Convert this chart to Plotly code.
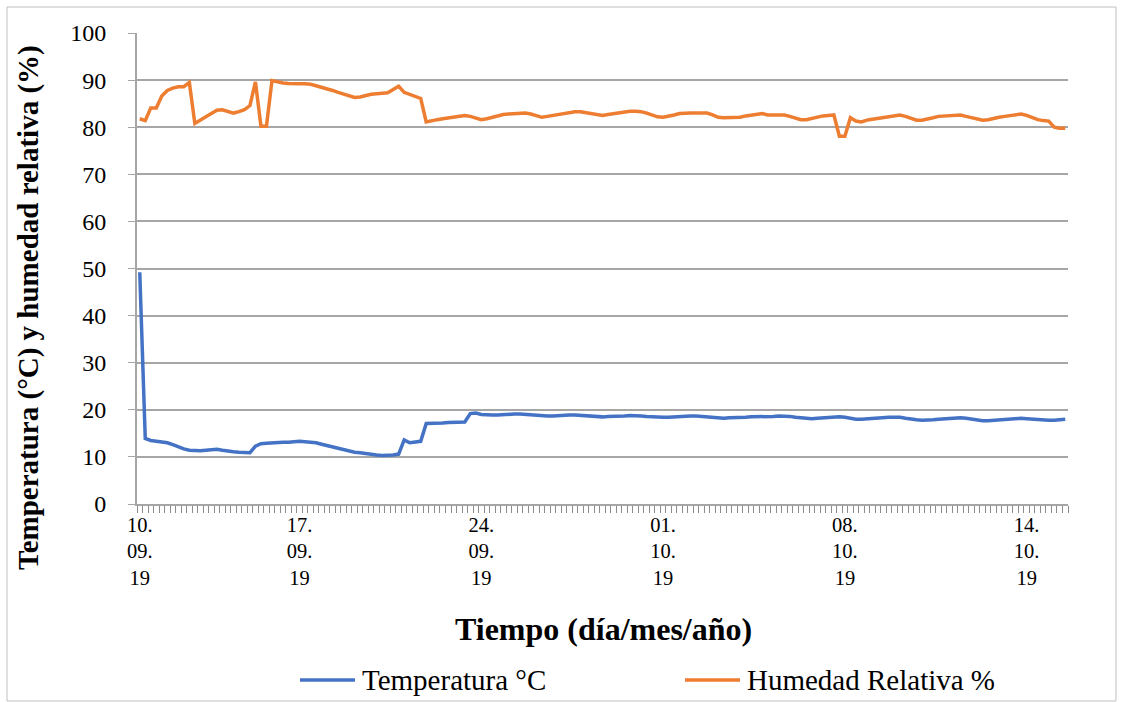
import plotly.graph_objects as go

# Data (one value per category / sampling step)
temperatura = [
    49.2, 13.9, 13.5, 13.3, 13.2, 13.0, 12.6, 12.1, 11.7, 11.4,
    11.3, 11.3, 11.4, 11.5, 11.6, 11.4, 11.2, 11.1, 11.0, 11.0,
    10.9, 12.3, 12.8, 12.9, 13.0, 13.0, 13.1, 13.1, 13.2, 13.3,
    13.2, 13.1, 13.0, 12.7, 12.4, 12.1, 11.8, 11.5, 11.2, 11.0,
    10.9, 10.7, 10.6, 10.4, 10.3, 10.3, 10.4, 10.6, 13.6, 13.0,
    13.2, 13.3, 17.1, 17.1, 17.2, 17.2, 17.3, 17.3, 17.4, 17.4,
    19.2, 19.3, 19.0, 18.9, 18.9, 18.9, 19.0, 19.0, 19.1, 19.1,
    19.0, 18.9, 18.8, 18.7, 18.7, 18.7, 18.8, 18.8, 18.9, 18.9,
    18.8, 18.7, 18.6, 18.5, 18.5, 18.6, 18.6, 18.7, 18.7, 18.8,
    18.8, 18.7, 18.6, 18.5, 18.4, 18.4, 18.4, 18.5, 18.5, 18.6,
    18.7, 18.7, 18.6, 18.5, 18.3, 18.2, 18.2, 18.3, 18.3, 18.4,
    18.4, 18.5, 18.5, 18.5, 18.6, 18.6, 18.7, 18.7, 18.6, 18.4,
    18.3, 18.2, 18.1, 18.2, 18.3, 18.4, 18.5, 18.5, 18.4, 18.2,
    18.0, 18.0, 18.1, 18.1, 18.2, 18.3, 18.4, 18.4, 18.4, 18.2,
    18.0, 17.9, 17.8, 17.8, 17.9, 18.0, 18.1, 18.2, 18.3, 18.3,
    18.2, 18.0, 17.8, 17.7, 17.7, 17.8, 17.9, 18.0, 18.1, 18.2,
    18.2, 18.1, 18.0, 17.9, 17.8, 17.8, 17.8, 17.9, 18.0,
]

humedad = [
    81.8, 81.4, 84.1, 84.1, 86.6, 87.8, 88.3, 88.6, 88.6, 89.5,
    80.8, 81.6, 82.2, 82.9, 83.6, 83.7, 83.4, 83.0, 83.3, 83.7,
    84.6, 89.6, 80.2, 80.2, 89.9, 89.6, 89.4, 89.3, 89.2, 89.2,
    89.2, 89.1, 88.8, 88.5, 88.1, 87.8, 87.4, 87.0, 86.6, 86.3,
    86.4, 86.7, 87.0, 87.1, 87.2, 87.3, 88.0, 88.7, 87.4, 86.9,
    86.5, 86.1, 81.1, 81.4, 81.6, 81.8, 82.0, 82.2, 82.4, 82.5,
    82.3, 82.0, 81.6, 81.8, 82.1, 82.4, 82.7, 82.8, 82.9, 82.9,
    83.0, 82.8, 82.5, 82.1, 82.3, 82.5, 82.8, 83.0, 83.2, 83.3,
    83.3, 83.1, 82.8, 82.6, 82.5, 82.7, 82.9, 83.1, 83.3, 83.4,
    83.4, 83.3, 83.0, 82.6, 82.2, 82.1, 82.3, 82.6, 82.9, 83.0,
    83.0, 83.0, 83.0, 83.0, 82.6, 82.1, 82.0, 82.0, 82.0, 82.1,
    82.4, 82.6, 82.7, 82.9, 82.6, 82.6, 82.7, 82.6, 82.3, 81.9,
    81.6, 81.6, 81.9, 82.2, 82.4, 82.5, 82.6, 78.1, 78.1, 82.0,
    81.3, 81.1, 81.5, 81.7, 81.9, 82.1, 82.3, 82.4, 82.6, 82.3,
    81.8, 81.5, 81.5, 81.7, 82.0, 82.3, 82.4, 82.5, 82.6, 82.6,
    82.3, 82.0, 81.8, 81.5, 81.6, 81.9, 82.1, 82.3, 82.5, 82.7,
    82.8, 82.5, 82.0, 81.6, 81.4, 81.3, 80.0, 79.8, 79.8,
]

tick_positions = [0, 29, 62, 95, 128, 161]
tick_labels = ["10.<br>09.<br>19", "17.<br>09.<br>19", "24.<br>09.<br>19",
               "01.<br>10.<br>19", "08.<br>10.<br>19", "14.<br>10.<br>19"]

series_names = ["Temperatura °C", "Humedad Relativa %"]
series_colors = ["#4472C4", "#ED7D31"]

idx = list(range(len(temperatura)))
n = len(idx)

FONT = "Liberation Serif"
GRID = "#A6A6A6"
TICK = "#8C8C8C"

fig = go.Figure()
for vals, name, col in zip([temperatura, humedad], series_names, series_colors):
    fig.add_trace(go.Scatter(x=idx, y=vals, mode="lines", name=name,
                             line=dict(color=col, width=3.5), showlegend=False))

# helper trace so the label axis (x2) is rendered
fig.add_trace(go.Scatter(x=[idx[0]], y=[temperatura[0]], xaxis="x2", mode="lines",
                         line=dict(width=0), hoverinfo="skip", showlegend=False))

L, R, T, B = 137, 55, 33, 198
W, H = 1123, 702
pw, ph = W - L - R, H - T - B

def px(xp):
    return (xp - L) / pw

def py(yp):
    return (H - B - yp) / ph

# Manual legend (line samples + labels), Excel style
legend_shapes = []
legend_annots = []
legend_items = [(300, 355, 360), (685, 740, 745)]
for (x0, x1, xt), name, col in zip(legend_items, series_names, series_colors):
    legend_shapes.append(dict(type="line", xref="paper", yref="paper",
                              x0=px(x0), x1=px(x1), y0=py(680), y1=py(680),
                              line=dict(color=col, width=3.5)))
    legend_annots.append(dict(text=name, xref="paper", yref="paper", x=px(xt), y=py(680),
                              xanchor="left", yanchor="middle", showarrow=False,
                              font=dict(family=FONT, size=29, color="black")))

fig.update_layout(
    width=W, height=H,
    margin=dict(l=L, r=R, t=T, b=B, autoexpand=False),
    paper_bgcolor="white", plot_bgcolor="white",
    font=dict(family=FONT, size=21, color="black"),
    showlegend=False,
    # data axis: one tick mark between each pair of categories, no labels
    xaxis=dict(range=[-0.5, n - 0.5], tickmode="linear", tick0=-0.5, dtick=1,
               showticklabels=False, ticks="outside", ticklen=7, tickcolor=TICK, tickwidth=1.2,
               showgrid=False, zeroline=False, showline=True, linecolor=GRID, linewidth=2),
    # label axis: date labels every few categories
    xaxis2=dict(overlaying="x", anchor="y", side="bottom", range=[-0.5, n - 0.5],
                tickmode="array", tickvals=tick_positions, ticktext=tick_labels, ticks="",
                showticklabels=True, showgrid=False, zeroline=False, showline=False,
                tickfont=dict(family=FONT, size=20.5, color="black"), ticklabelstandoff=6),
    yaxis=dict(range=[0, 100], dtick=10, tick0=0, showgrid=True, gridcolor=GRID, gridwidth=1.5,
               zeroline=False, showline=True, linecolor=GRID, linewidth=2,
               ticks="outside", ticklen=7, tickcolor=GRID, ticklabelstandoff=17,
               tickfont=dict(family=FONT, size=24, color="black")),
    annotations=[
        dict(text="<b>Tiempo (día/mes/año)</b>", xref="paper", yref="paper",
             x=px(603), y=py(629), xanchor="center", yanchor="middle", showarrow=False,
             font=dict(family=FONT, size=32, color="black")),
        dict(text="<b>Temperatura (°C) y humedad relativa (%)</b>", xref="paper", yref="paper",
             x=px(28), y=py(308), xanchor="center", yanchor="middle", showarrow=False,
             textangle=-90, font=dict(family=FONT, size=29, color="black")),
    ] + legend_annots,
    shapes=[
        dict(type="rect", xref="paper", yref="paper", x0=px(7), x1=px(1116), y0=py(701), y1=py(7),
             line=dict(color="#BFBFBF", width=1), fillcolor="rgba(0,0,0,0)", layer="below"),
    ] + legend_shapes,
)

fig.write_html("out.html")
